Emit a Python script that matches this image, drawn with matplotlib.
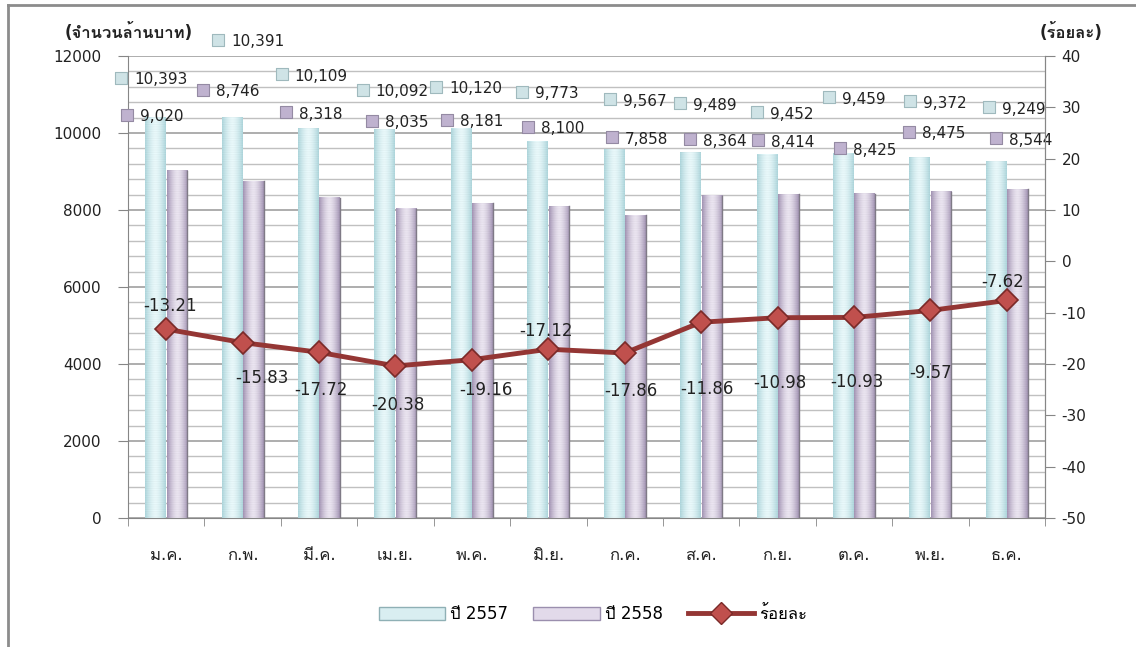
import numpy as np
import matplotlib
matplotlib.use("Agg")
import matplotlib.pyplot as plt
from matplotlib import font_manager
from matplotlib.ft2font import FT2Font
from matplotlib.patches import Rectangle
from matplotlib.lines import Line2D


months = ["ม.ค.", "ก.พ.", "มี.ค.", "เม.ย.", "พ.ค.", "มิ.ย.",
          "ก.ค.", "ส.ค.", "ก.ย.", "ต.ค.", "พ.ย.", "ธ.ค."]
y2557 = [10393, 10391, 10109, 10092, 10120, 9773, 9567, 9489, 9452, 9459, 9372, 9249]
y2558 = [9020, 8746, 8318, 8035, 8181, 8100, 7858, 8364, 8414, 8425, 8475, 8544]
pct = [-13.21, -15.83, -17.72, -20.38, -19.16, -17.12, -17.86, -11.86,
       -10.98, -10.93, -9.57, -7.62]

# where Excel dropped the data labels (category offset, left-axis units)
lab57_dx = [-0.59, -0.32, -0.49, -0.43, -0.47, -0.34, -0.19, -0.28, -0.27, -0.33, -0.27, -0.23]
lab57_y = [11430, 12416, 11532, 11117, 11195, 11065, 10883, 10779, 10545, 10935, 10831, 10675]
lab58_dx = [-0.51, -0.52, -0.43, -0.31, -0.33, -0.27, -0.17, -0.15, -0.26, -0.18, -0.28, -0.14]
lab58_y = [10468, 11117, 10545, 10312, 10338, 10156, 9896, 9844, 9818, 9610, 10026, 9870]
# percent label offsets in pixels from the marker
pct_off = [(4, 23), (19, -35), (2, -38), (2, -39), (14, -30), (-2, 18),
           (6, -38), (6, -67), (2, -65), (3, -65), (0, -63), (-4, 18)]


def find_thai_font():
    for f in font_manager.fontManager.ttflist:
        try:
            if 0x0E08 in FT2Font(f.fname).get_charmap():
                return f.name
        except Exception:
            pass
    return None


thai = find_thai_font()
plt.rcParams["font.family"] = ["DejaVu Sans", thai] if thai else ["DejaVu Sans"]
plt.rcParams["axes.unicode_minus"] = False


def gradient_bar(ax, x0, w, h, edge, mid, zorder=2):
    xs = np.linspace(-1, 1, 40)
    t = np.abs(xs) ** 1.6
    c0 = np.array(matplotlib.colors.to_rgb(mid))
    c1 = np.array(matplotlib.colors.to_rgb(edge))
    row = c0[None, :] * (1 - t[:, None]) + c1[None, :] * t[:, None]
    nrows = max(int(h / 30), 2)
    img = np.repeat(row[None, :, :], nrows, axis=0)
    stripe = 1 - 0.03 * (np.arange(nrows) % 2)
    img = img * stripe[:, None, None]
    ax.imshow(img, extent=(x0, x0 + w, 0, h), aspect="auto",
              interpolation="bilinear", zorder=zorder, origin="lower")


fig = plt.figure(figsize=(11.36, 6.47), dpi=100)
ax = fig.add_axes([128 / 1136, 1 - 518 / 647, 917 / 1136, 462 / 647])
ax2 = ax.twinx()

x = np.arange(len(months))
bw = 0.27
for i in x:
    gradient_bar(ax, i - bw - 0.005, bw, y2557[i], "#b0d8de", "#eafafc")
    gradient_bar(ax, i + 0.005, bw, y2558[i], "#a596b6", "#ece6f2")
    ax.plot([i + 0.005 + bw] * 2, [0, y2558[i]], color="#7f7a86", lw=1, zorder=3)

ax.set_xlim(-0.5, 11.5)
ax.set_ylim(0, 12000)
ax.set_yticks(np.arange(0, 12001, 2000))
ax.set_yticks(np.arange(0, 12001, 400), minor=True)
ax.yaxis.grid(True, which="major", color="#a0a0a0", lw=1.2, zorder=0)
ax.yaxis.grid(True, which="minor", color="#c0c0c0", lw=1.0, zorder=0)
ax.set_axisbelow(True)
ax.set_xticks(x)
ax.set_xticklabels(months, fontsize=12)
ax.set_xticks(np.arange(-0.5, 12, 1), minor=True)
ax.tick_params(axis="x", which="major", length=0, pad=20, colors="#222222")
ax.tick_params(axis="x", which="minor", length=6, color="#868686", direction="out")
ax.tick_params(axis="y", which="major", length=7, color="#868686", labelsize=11,
               colors="#222222", pad=12)
ax.tick_params(axis="y", which="minor", length=0)
ax.tick_params(axis="y", which="major", color="#868686")
for s in ["left", "bottom", "right"]:
    ax.spines[s].set_color("#868686")
ax.spines["top"].set_visible(False)

# data labels with legend keys
for i in x:
    ax.scatter(i + lab57_dx[i], lab57_y[i], marker="s", s=80, c="#cfe3e6",
               edgecolors="#9fb9bd", linewidths=0.8, zorder=5, clip_on=False)
    ax.annotate(f"{y2557[i]:,}", (i + lab57_dx[i], lab57_y[i]), xytext=(13, -2),
                textcoords="offset pixels", ha="left", va="center", fontsize=11,
                color="#222222", zorder=6, annotation_clip=False)
    ax.scatter(i + lab58_dx[i], lab58_y[i], marker="s", s=80, c="#bfb2cf",
               edgecolors="#948aa3", linewidths=0.8, zorder=5, clip_on=False)
    ax.annotate(f"{y2558[i]:,}", (i + lab58_dx[i], lab58_y[i]), xytext=(13, -2),
                textcoords="offset pixels", ha="left", va="center", fontsize=11,
                color="#222222", zorder=6, annotation_clip=False)

ax2.plot(x, pct, color="#943634", lw=3.5, marker="D", markersize=11,
         markerfacecolor="#c0504d", markeredgecolor="#7a2a28", markeredgewidth=1.2,
         zorder=4)
for i in x:
    ax2.annotate(f"{pct[i]:.2f}", (x[i], pct[i]), xytext=pct_off[i],
                 textcoords="offset pixels", ha="center", va="center",
                 fontsize=12, color="#222222")
ax2.set_ylim(-50, 40)
ax2.set_yticks(np.arange(-50, 41, 10))
ax2.tick_params(axis="y", length=7, color="#868686", labelsize=11, colors="#222222", pad=5)
for s in ax2.spines.values():
    s.set_visible(False)
ax2.spines["right"].set_visible(True)
ax2.spines["right"].set_color("#868686")

fig.text(65 / 1136, 1 - 33 / 647, "(จำนวนล้านบาท)", fontsize=12, fontweight="bold",
         ha="left", va="center", color="#222222")
fig.text(1040 / 1136, 1 - 33 / 647, "(ร้อยละ)", fontsize=12, fontweight="bold",
         ha="left", va="center", color="#222222")

handles = [
    Rectangle((0, 0), 1, 1, facecolor="#d9eef1", edgecolor="#8fb0b5"),
    Rectangle((0, 0), 1, 1, facecolor="#e2daea", edgecolor="#9b8fae"),
    Line2D([], [], color="#943634", lw=3.5, marker="D", markersize=11,
           markerfacecolor="#c0504d", markeredgecolor="#7a2a28"),
]
fig.legend(handles, ["ปี 2557", "ปี 2558", "ร้อยละ"], loc="center",
           bbox_to_anchor=(593 / 1136, 1 - 614 / 647), ncol=3, frameon=False,
           fontsize=12, handlelength=4, handleheight=0.8, columnspacing=1.5,
           handletextpad=0.3)

# outer chart border
fig.add_artist(Line2D([8 / 1136, 8 / 1136], [0, 1 - 5 / 647], color="#8c8c8c", lw=2))
fig.add_artist(Line2D([8 / 1136, 1], [1 - 5 / 647, 1 - 5 / 647], color="#8c8c8c", lw=2))

fig.savefig("out.png", dpi=100)
